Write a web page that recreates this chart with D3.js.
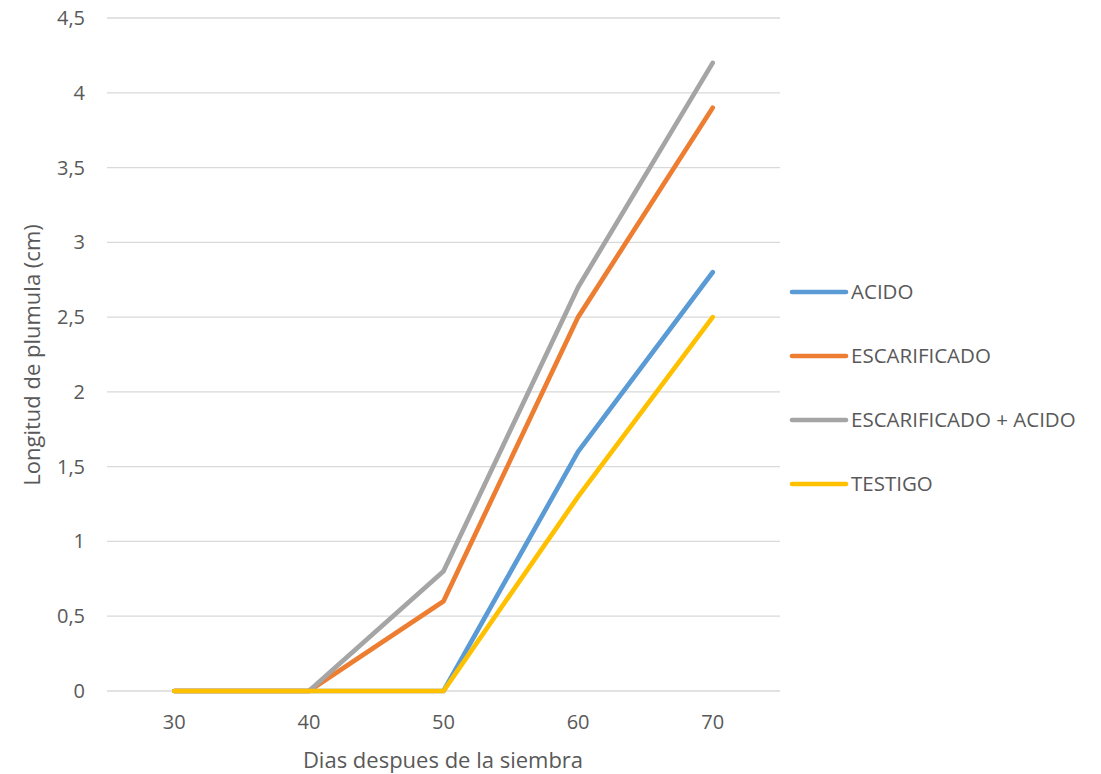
<!DOCTYPE html>
<html lang="es">
<head>
<meta charset="UTF-8">
<title>Longitud de plumula</title>
<script src="https://cdn.jsdelivr.net/npm/d3@7/dist/d3.min.js"></script>
<style>
  body { margin: 0; background: #fff; }
  svg text { font-family: "Open Sans", "Liberation Sans", sans-serif; fill: #595959; }
</style>
</head>
<body>
<script>
// data
var dias = ["30", "40", "50", "60", "70"];
var seriesNames = ["ACIDO", "ESCARIFICADO", "ESCARIFICADO + ACIDO", "TESTIGO"];
var acido = [0, 0, 0, 1.6, 2.8];
var escarificado = [0, 0, 0.6, 2.5, 3.9];
var escAcido = [0, 0, 0.8, 2.7, 4.2];
var testigo = [0, 0, 0, 1.3, 2.5];
var yTicks = [0, 0.5, 1, 1.5, 2, 2.5, 3, 3.5, 4, 4.5];
var colors = ["#5b9bd5", "#ed7d31", "#a5a5a5", "#ffc000"];

var series = [acido, escarificado, escAcido, testigo];

var w = 1101, h = 774;
var plotLeft = 107, plotRight = 780, plotTop = 18, plotBottom = 691;

var svg = d3.select("body").append("svg")
  .attr("width", w).attr("height", h);

var x = d3.scalePoint().domain(dias).range([plotLeft, plotRight]).padding(0.5);
var y = d3.scaleLinear().domain([0, 4.5]).range([plotBottom, plotTop]);

// gridlines
svg.append("g").selectAll("line")
  .data(yTicks).enter().append("line")
  .attr("x1", plotLeft).attr("x2", plotRight)
  .attr("y1", function(d) { return y(d); })
  .attr("y2", function(d) { return y(d); })
  .attr("stroke", "#d9d9d9").attr("stroke-width", 1.3);

// y tick labels
var fmt = function(d) { return String(d).replace(".", ","); };
svg.append("g").selectAll("text")
  .data(yTicks).enter().append("text")
  .attr("x", 85)
  .attr("y", function(d) { return y(d); })
  .attr("dy", "0.35em")
  .attr("text-anchor", "end")
  .style("font-size", "20px")
  .text(fmt);

// x tick labels
svg.append("g").selectAll("text")
  .data(dias).enter().append("text")
  .attr("x", function(d) { return x(d); })
  .attr("y", 722)
  .attr("dy", "0.35em")
  .attr("text-anchor", "middle")
  .style("font-size", "20px")
  .text(function(d) { return d; });

// axis titles
svg.append("text")
  .attr("x", 443).attr("y", 768)
  .attr("text-anchor", "middle")
  .style("font-size", "22px")
  .text("Dias despues de la siembra");

svg.append("text")
  .attr("transform", "translate(40," + 355 + ") rotate(-90)")
  .attr("text-anchor", "middle")
  .style("font-size", "22px")
  .text("Longitud de plumula (cm)");

// lines
var line = d3.line()
  .x(function(d, i) { return x(dias[i]); })
  .y(function(d) { return y(d); });

svg.append("g").selectAll("path")
  .data(series).enter().append("path")
  .attr("d", line)
  .attr("fill", "none")
  .attr("stroke", function(d, i) { return colors[i]; })
  .attr("stroke-width", 4.7)
  .attr("stroke-linecap", "round")
  .attr("stroke-linejoin", "round");

// legend
var legend = svg.append("g").selectAll("g")
  .data(seriesNames).enter().append("g")
  .attr("transform", function(d, i) { return "translate(792," + (292 + i * 64) + ")"; });

legend.append("line")
  .attr("x1", 0).attr("x2", 54)
  .attr("stroke", function(d, i) { return colors[i]; })
  .attr("stroke-width", 4.7)
  .attr("stroke-linecap", "round");

legend.append("text")
  .attr("x", 59).attr("dy", "0.35em")
  .style("font-size", "20.5px")
  .text(function(d) { return d; });
</script>
</body>
</html>
